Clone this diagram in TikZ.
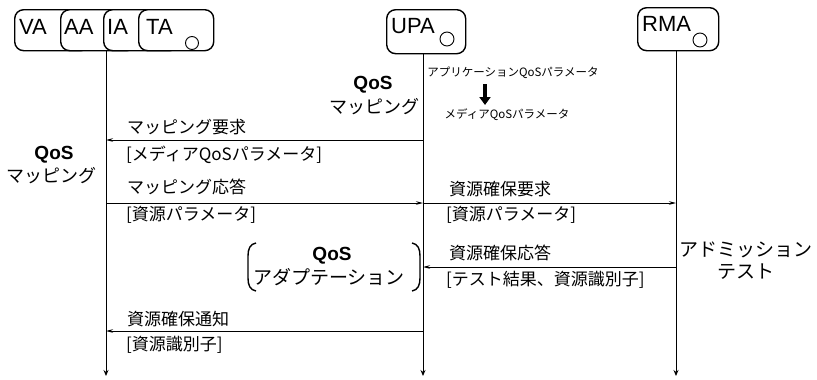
\documentclass[tikz,border=0pt]{standalone}
\usepackage{fontspec}
\setmainfont{Liberation Sans}
\newfontfamily\jp{Noto Sans CJK JP}
\usetikzlibrary{arrows.meta}
\begin{document}
\begin{tikzpicture}[x=1pt,y=-1pt,
  agent/.style={draw, line width=1.4pt, rounded corners=9pt, fill=white, inner sep=0pt, anchor=north west},
  atext/.style={font=\fontsize{22}{24}\selectfont, inner sep=0pt, anchor=west},
  port/.style={draw, circle, line width=0.9pt, inner sep=0pt, minimum size=13pt, fill=white},
  life/.style={line width=0.9pt, -{Stealth[length=6pt,width=5pt]}},
  msg/.style={line width=0.9pt, -{Stealth[length=7pt,width=3.5pt]}},
  lab/.style={font=\jp\fontsize{17}{19}\selectfont, inner sep=0pt},
  side/.style={font=\jp\fontsize{18}{20}\selectfont, inner sep=0pt},
  big/.style={font=\jp\fontsize{19}{21}\selectfont, inner sep=0pt},
  qos/.style={font=\bfseries\fontsize{19}{21}\selectfont, inner sep=0pt},
  small/.style={font=\jp\fontsize{11.5}{13}\selectfont, inner sep=0pt},
  paren/.style={line width=1.4pt}]
\useasboundingbox (0,0) rectangle (817,380);

% agent group
\node[agent, minimum width=75pt, minimum height=41pt] (va) at (14,9) {};
\node[atext] (vat) at (19,27) {VA};
\node[agent, minimum width=75pt, minimum height=41pt] (aa) at (60,9) {};
\node[atext] (aat) at (64,27) {AA};
\node[agent, minimum width=75pt, minimum height=41pt] (ia) at (103,9) {};
\node[atext] (iat) at (107,27) {IA};
\node[agent, minimum width=75pt, minimum height=41pt] (ta) at (138,9) {};
\node[atext] (tat) at (146,27) {TA};
\node[port] (tac) at (192,43) {};

\node[agent, minimum width=79pt, minimum height=44pt] (upa) at (386,9) {};
\node[atext] (upat) at (391,26) {UPA};
\node[port, minimum size=14pt] (upac) at (447,39) {};

\node[agent, minimum width=81pt, minimum height=43pt] (rma) at (637,7) {};
\node[atext] (rmat) at (642,24) {RMA};
\node[port, minimum size=14pt] (rmac) at (700,40) {};

% lifelines
\coordinate (lt) at (106,50);
\coordinate (lb) at (106,376);
\coordinate (ut) at (423,53);
\coordinate (ub) at (423,376);
\coordinate (rt) at (676,50);
\coordinate (rb) at (676,376);
\draw[life] (lt) -- (lb);
\draw[life] (ut) -- (ub);
\draw[life] (rt) -- (rb);

% message levels
\coordinate (m1) at (0,140);
\coordinate (m2) at (0,203);
\coordinate (m4) at (0,267);
\coordinate (m5) at (0,331);

\draw[msg] (ut |- m1) -- (lt |- m1);
\draw[msg] (lt |- m2) -- (ut |- m2);
\draw[msg] (ut |- m2) -- (rt |- m2);
\draw[msg] (rt |- m4) -- (ut |- m4);
\draw[msg] (ut |- m5) -- (lt |- m5);

% message labels
\node[lab, anchor=west] (a1) at (127,127) {マッピング要求};
\node[lab, anchor=west] (b1) at (126,155) {[メディアQoSパラメータ]};
\node[lab, anchor=west] (a2) at (127,187) {マッピング応答};
\node[lab, anchor=west] (b2) at (126,215) {[資源パラメータ]};
\node[lab, anchor=west] (a3) at (449,189) {資源確保要求};
\node[lab, anchor=west] (b3) at (446,215) {[資源パラメータ]};
\node[lab, anchor=west] (a4) at (449,253) {資源確保応答};
\node[lab, anchor=west] (b4) at (446,280) {[テスト結果、資源識別子]};
\node[lab, anchor=west] (a5) at (127,319) {資源確保通知};
\node[lab, anchor=west] (b5) at (126,345) {[資源識別子]};

% side notes
\node[qos] (q1) at (373,85) {QoS};
\node[side] (q1b) at (374,107) {マッピング};
\node[qos] (q2) at (54,155) {QoS};
\node[side] (q2b) at (51,176) {マッピング};

\node[small] (ap) at (513,73) {アプリケーションQoSパラメータ};
\node[small] (mp) at (507,115) {メディアQoSパラメータ};
\coordinate (da) at (485,84);
\coordinate (db) at (485,105);
\draw[line width=3.5pt, -{Triangle[length=8pt,width=11pt]}] (da) -- (db);

\node[qos] (q3) at (332,256) {QoS};
\node[big] (q3b) at (329,277) {アダプテーション};
\coordinate (pl1) at (256,243);
\coordinate (pl2) at (256,291);
\coordinate (pr1) at (412,243);
\coordinate (pr2) at (412,291);
\draw[paren] (pl1) .. controls (250,244) and (248,249) .. (248,256) -- (248,278) .. controls (248,285) and (250,290) .. (pl2);
\draw[paren] (pr1) .. controls (418,244) and (420,249) .. (420,256) -- (420,278) .. controls (420,285) and (418,290) .. (pr2);

\node[big] (ad) at (746,250) {アドミッション};
\node[big] (te) at (746,272) {テスト};
\end{tikzpicture}
\end{document}
